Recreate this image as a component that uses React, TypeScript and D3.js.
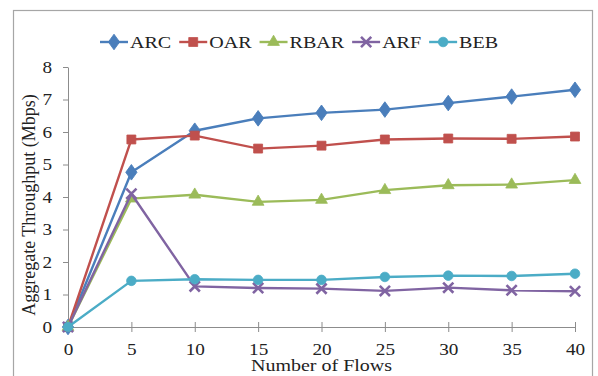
import React, { useEffect, useRef } from 'react';
import * as d3 from 'd3';

const flows = [0, 5, 10, 15, 20, 25, 30, 35, 40];
const arc = [0, 4.76, 6.04, 6.42, 6.59, 6.69, 6.89, 7.09, 7.3];
const oar = [0, 5.77, 5.89, 5.49, 5.58, 5.77, 5.8, 5.79, 5.86];
const rbar = [0, 3.95, 4.07, 3.85, 3.91, 4.21, 4.36, 4.38, 4.52];
const arf = [0, 4.1, 1.25, 1.2, 1.18, 1.11, 1.21, 1.13, 1.1];
const beb = [0, 1.42, 1.47, 1.45, 1.45, 1.54, 1.58, 1.57, 1.64];
const yTicks = [0, 1, 2, 3, 4, 5, 6, 7, 8];
const names = ['ARC', 'OAR', 'RBAR', 'ARF', 'BEB'];
const colors = ['#4a7ebb', '#c0504d', '#9bbb59', '#8064a2', '#4bacc6'];

const FONT = '"Liberation Serif", "Times New Roman", serif';

export default function App() {
    const ref = useRef<SVGSVGElement>(null);

    useEffect(() => {
        if (!ref.current) return;
        const svg = d3.select(ref.current);
        svg.selectAll('*').remove();

        const width = 598;
        const height = 376;
        const margin = { top: 67, right: 23, bottom: 49, left: 68 };

        const x = d3.scaleLinear().domain([0, 40]).range([margin.left, width - margin.right]);
        const y = d3.scaleLinear().domain([0, 8]).range([height - margin.bottom, margin.top]);

        // outer frame
        svg.append('rect')
            .attr('x', 13.5).attr('y', 10.5)
            .attr('width', 579).attr('height', 380)
            .attr('fill', 'white')
            .attr('stroke', '#a6a6a6').attr('stroke-width', 1.2);

        // x axis (cross ticks)
        const gx = svg.append('g')
            .attr('transform', `translate(0,${y(0)})`)
            .call(d3.axisBottom(x).tickValues(flows).tickSizeOuter(0).tickPadding(0));
        gx.select('.domain').attr('stroke', '#8c8c8c');
        gx.selectAll('.tick line').attr('y1', -5).attr('y2', 5).attr('stroke', '#8c8c8c');
        gx.selectAll('.tick text')
            .attr('y', 28).attr('dy', null)
            .attr('font-family', FONT).attr('font-size', 16).attr('fill', '#222')
            .attr('transform', 'scale(1.2,1)');

        // y axis
        const gy = svg.append('g')
            .attr('transform', `translate(${x(0)},0)`)
            .call(d3.axisLeft(y).tickValues(yTicks).tickSize(5).tickSizeOuter(0));
        gy.select('.domain').attr('stroke', '#8c8c8c');
        gy.selectAll('.tick line').attr('stroke', '#8c8c8c');
        gy.selectAll('.tick text')
            .attr('x', -16 / 1.2).attr('dy', '0.34em')
            .attr('font-family', FONT).attr('font-size', 16).attr('fill', '#222')
            .attr('transform', 'scale(1.2,1)');

        // axis titles
        svg.append('text')
            .attr('x', (x(0) + x(40)) / 2 / 1.25).attr('y', 371)
            .attr('transform', 'scale(1.25,1)')
            .attr('text-anchor', 'middle')
            .attr('font-family', FONT).attr('font-size', 16).attr('fill', '#222')
            .text('Number of Flows');
        svg.append('text')
            .attr('transform', `translate(35,${(y(0) + y(8)) / 2 + 8}) rotate(-90)`)
            .attr('text-anchor', 'middle')
            .attr('font-family', FONT).attr('font-size', 18).attr('fill', '#222')
            .text('Aggregate Throughput (Mbps)');

        const values = [arc, oar, rbar, arf, beb];
        const shapes = [d3.symbolDiamond, d3.symbolSquare, d3.symbolTriangle, d3.symbolX, d3.symbolCircle];
        const sizes = [70, 80, 60, 70, 72];

        const drawMarker = (g: any, i: number, cx: number, cy: number) => {
            const path = d3.symbol().type(shapes[i]).size(sizes[i])();
            const m = g.append('path')
                .attr('d', path)
                .attr('transform', `translate(${cx},${cy})${i === 0 ? ' scale(1.25,1)' : ''}`);
            if (i === 3) {
                m.attr('fill', 'none').attr('stroke', colors[i]).attr('stroke-width', 2.6);
            } else {
                m.attr('fill', colors[i]).attr('stroke', colors[i]).attr('stroke-width', 0.8);
            }
        };

        const line = d3.line<number>()
            .x((_, j) => x(flows[j]))
            .y(d => y(d));

        values.forEach((vals, i) => {
            const g = svg.append('g');
            g.append('path')
                .datum(vals)
                .attr('d', line)
                .attr('fill', 'none')
                .attr('stroke', colors[i])
                .attr('stroke-width', 2.4)
                .attr('stroke-linejoin', 'round');
            vals.forEach((v, j) => drawMarker(g, i, x(flows[j]), y(v)));
        });

        // legend
        const legend = svg.append('g');
        let lx = 100;
        const ly = 42;
        names.forEach((name, i) => {
            const g = legend.append('g');
            g.append('line')
                .attr('x1', lx).attr('x2', lx + 28)
                .attr('y1', ly).attr('y2', ly)
                .attr('stroke', colors[i]).attr('stroke-width', 2.4);
            drawMarker(g, i, lx + 14, ly);
            const sx = 1.18;
            const t = g.append('text')
                .attr('x', (lx + 30) / sx).attr('y', ly + 6)
                .attr('transform', `scale(${sx},1)`)
                .attr('font-family', FONT).attr('font-size', 17).attr('fill', '#222')
                .text(name);
            const w = (t.node() as SVGTextElement).getComputedTextLength() * sx;
            lx = lx + 30 + w + 8;
        });
    }, []);

    return (
        <svg
            ref={ref}
            width={598}
            height={376}
            style={{ position: 'absolute', left: 0, top: 0, display: 'block' }}
        />
    );
}
